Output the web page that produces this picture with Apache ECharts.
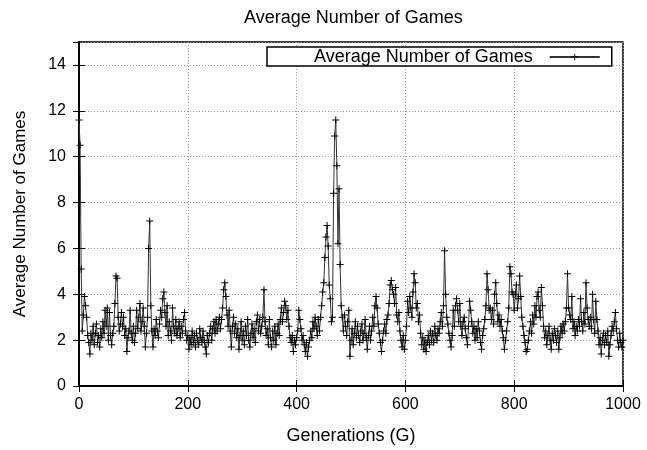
<!DOCTYPE html>
<html>
<head>
<meta charset="utf-8">
<script src="https://cdn.jsdelivr.net/npm/echarts@6/dist/echarts.min.js"></script>
<style>
  html, body { margin: 0; padding: 0; background: #fff; }
  #chart { width: 647px; height: 450px; }
</style>
</head>
<body>
<div id="chart"></div>
<script>
// one value every 2 generations, gen 0 .. 1000
var genStep = 2;
var avgGames = [
  11.6, 10.5, 5.1, 2.4, 3.1, 3.9, 3.5, 3.0, 2.2, 1.9, 1.4, 2.3, 2.0, 2.6, 1.8, 2.3, 2.7, 1.9, 2.2, 1.7, 2.5, 2.1, 2.8, 2.3, 3.3,
  2.6, 3.4, 2.0, 3.2, 2.2, 1.8, 2.3, 2.6, 3.6, 4.8, 4.7, 3.0, 2.4, 2.7, 3.2, 2.6, 3.0, 2.2, 2.5, 1.5, 2.1, 2.4, 3.3, 2.3, 2.0,
  2.6, 1.9, 2.3, 3.3, 2.5, 3.0, 3.6, 2.4, 2.8, 3.4, 2.6, 1.7, 2.3, 3.0, 6.0, 7.2, 3.5, 2.4, 1.7, 2.5, 2.2, 2.9, 2.4, 2.1, 2.7,
  3.3, 3.0, 3.8, 4.1, 3.2, 2.6, 3.5, 2.2, 2.8, 2.4, 2.0, 3.4, 2.6, 2.3, 2.9, 2.2, 2.5, 2.8, 2.1, 2.6, 2.3, 2.9, 3.2, 2.4, 2.0,
  2.2, 1.6, 2.1, 1.8, 2.4, 1.9, 2.2, 1.7, 2.3, 2.0, 1.8, 2.5, 2.1, 1.9, 2.4, 2.0, 1.7, 1.4, 2.2, 1.9, 2.3, 2.6, 2.0, 2.5, 2.8,
  2.3, 2.9, 2.4, 2.7, 3.0, 2.5, 2.9, 3.4, 4.2, 4.5, 3.9, 3.1, 2.6, 3.3, 2.4, 1.7, 2.6, 3.0, 2.3, 2.7, 2.1, 2.5, 1.6, 2.2, 2.8,
  2.0, 2.4, 1.8, 2.6, 2.2, 2.9, 2.0, 1.7, 2.3, 2.7, 2.1, 2.5, 1.9, 2.8, 3.1, 2.4, 2.9, 2.3, 2.6, 3.0, 4.2, 2.8, 2.2, 2.5, 1.8,
  2.9, 2.1, 1.7, 2.4, 2.0, 2.6, 1.8, 2.3, 2.7, 2.2, 2.9, 3.4, 2.8, 3.2, 3.7, 3.5, 2.9, 3.3, 2.6, 2.1, 1.9, 2.2, 1.5, 2.0, 1.8,
  2.1, 2.4, 3.3, 2.9, 2.5, 2.0, 2.2, 1.8, 1.5, 1.9, 1.3, 1.7, 2.0, 2.4, 2.1, 2.8, 2.5, 3.0, 2.6, 2.2, 2.9, 2.4, 3.0, 3.5, 4.1,
  4.5, 5.6, 6.5, 7.0, 6.1, 4.4, 3.8, 2.8, 3.0, 8.4, 10.9, 11.6, 9.6, 6.2, 8.6, 5.3, 3.5, 3.0, 2.4, 3.1, 2.6, 2.2, 2.8, 3.3, 1.3,
  2.0, 2.5, 1.8, 2.3, 2.8, 2.1, 2.6, 2.2, 1.9, 2.4, 2.7, 2.0, 2.3, 2.9, 2.1, 1.6, 2.2, 2.6, 2.0, 2.4, 3.0, 2.6, 3.5, 3.9, 3.4,
  2.7, 2.3, 1.9, 1.5, 2.0, 2.4, 2.7, 2.3, 2.9, 3.1, 3.6, 4.4, 4.6, 4.2, 4.0, 3.6, 4.3, 3.1, 2.8, 3.2, 2.4, 2.0, 1.7, 2.2, 1.6,
  2.0, 2.6, 3.7, 3.2, 3.9, 3.4, 3.0, 4.1, 4.9, 4.5, 3.4, 3.6, 2.8, 3.1, 2.3, 1.8, 2.1, 1.6, 2.0, 1.5, 1.9, 2.2, 1.8, 2.4, 2.0,
  2.3, 1.9, 2.6, 2.2, 2.0, 2.5, 2.3, 2.8, 3.2, 2.6, 3.5, 5.9, 4.0, 3.0, 2.7, 2.3, 2.0, 1.7, 2.2, 3.3, 2.6, 3.5, 3.8, 3.3, 2.8,
  3.6, 2.6, 2.2, 2.8, 3.0, 2.5, 2.1, 1.8, 2.6, 3.7, 3.3, 2.8, 2.3, 2.6, 2.0, 2.5, 2.1, 2.8, 2.4, 1.9, 1.6, 2.2, 2.5, 2.9, 3.5,
  4.9, 4.2, 3.3, 3.4, 2.9, 3.3, 2.7, 4.0, 4.5, 3.6, 2.8, 3.1, 2.6, 2.9, 2.4, 2.1, 1.6, 2.0, 2.4, 2.8, 3.4, 5.2, 4.9, 4.1, 4.0,
  3.3, 4.0, 4.4, 3.4, 3.8, 4.8, 3.9, 3.0, 2.6, 2.2, 1.9, 1.5, 1.6, 2.0, 2.4, 2.8, 2.3, 3.1, 2.7, 3.5, 3.0, 3.9, 4.1, 3.3, 3.0,
  4.3, 3.5, 2.6, 2.1, 2.4, 1.8, 2.2, 2.6, 2.0, 1.6, 2.3, 2.0, 2.5, 2.2, 1.9, 2.4, 1.6, 2.1, 2.6, 2.3, 2.7, 2.4, 2.8, 3.4, 4.9,
  3.4, 3.1, 2.9, 3.9, 2.5, 2.8, 2.2, 2.6, 2.4, 2.9, 2.6, 3.8, 2.8, 2.4, 3.2, 2.7, 4.5, 3.4, 2.9, 2.6, 3.0, 2.5, 4.0, 2.9, 2.3,
  3.7, 2.9, 2.4, 1.8, 2.1, 1.4, 2.0, 2.3, 1.8, 2.2, 1.9, 2.4, 1.3, 1.8, 2.2, 2.6, 2.4, 2.8, 3.2, 2.5, 2.0, 1.7, 2.3, 1.9, 1.7,
  2.0
];
var xTicks = [0, 200, 400, 600, 800, 1000];
var yTicks = [0, 2, 4, 6, 8, 10, 12, 14];

var seriesData = avgGames.map(function (v, i) {
  return [i * genStep, v];
});

var FONT = 'Liberation Sans, Arial, Helvetica, sans-serif';
var plusIcon = 'path://M3,0h1v7h-1zM0,3h7v1h-7z';

var chart = echarts.init(document.getElementById('chart'), null, { renderer: 'canvas' });

function axisBase(extra) {
  return Object.assign({
    type: 'value',
    axisLine: { show: true, lineStyle: { color: '#000', width: 1.5 } },
    axisTick: { show: true, inside: true, length: 6, lineStyle: { color: '#000', width: 1 } },
    splitLine: { show: false }
  }, extra);
}

chart.setOption({
  animation: false,
  backgroundColor: '#fff',
  title: {
    text: 'Average Number of Games',
    left: 239,
    top: 4,
    textStyle: { fontFamily: FONT, fontSize: 18, fontWeight: 'normal', color: '#000' }
  },
  legend: {
    data: ['Average Number of Games'],
    left: 267,
    top: 47,
    align: 'right',
    itemWidth: 50,
    itemHeight: 8,
    itemGap: 17,
    padding: [1, 11, 0, 47],
    borderColor: '#000',
    borderWidth: 1.5,
    backgroundColor: '#fff',
    textStyle: { fontFamily: FONT, fontSize: 18, color: '#000', padding: [0, 12, 0, 0] }
  },
  grid: {
    left: 79,
    right: 24,
    top: 42,
    bottom: 58,
    show: true,
    borderColor: '#000',
    borderWidth: 1.5
  },
  xAxis: [
    axisBase({
      min: xTicks[0],
      max: xTicks[xTicks.length - 1],
      interval: 200,
      name: 'Generations (G)',
      nameLocation: 'middle',
      nameGap: 41,
      nameTextStyle: { fontFamily: FONT, fontSize: 18, color: '#000' },
      axisLabel: {
        fontFamily: FONT, fontSize: 16, color: '#000', margin: 11,
        formatter: function (v) { return String(v); }
      },
      splitLine: { show: true, lineStyle: { color: '#999', type: [1, 2], width: 1 } }
    }),
    axisBase({
      position: 'top',
      min: xTicks[0],
      max: xTicks[xTicks.length - 1],
      interval: 200,
      axisLabel: { show: false }
    })
  ],
  yAxis: [
    axisBase({
      min: yTicks[0],
      max: 15,
      interval: 2,
      name: 'Average Number of Games',
      nameLocation: 'middle',
      nameGap: 50,
      nameTextStyle: { fontFamily: FONT, fontSize: 17, color: '#000' },
      axisLabel: { fontFamily: FONT, fontSize: 16, color: '#000', margin: 13, showMaxLabel: false },
      splitLine: { show: true, lineStyle: { color: '#999', type: [1, 2], width: 1 } }
    }),
    axisBase({
      position: 'right',
      min: yTicks[0],
      max: 15,
      interval: 2,
      axisLabel: { show: false }
    })
  ],
  series: [
    {
      name: 'Average Number of Games',
      type: 'line',
      xAxisIndex: 0,
      yAxisIndex: 0,
      data: seriesData,
      symbol: plusIcon,
      symbolSize: 7,
      showSymbol: true,
      lineStyle: { color: '#333', width: 1 },
      itemStyle: { color: '#000' },
      emphasis: { disabled: true }
    }
  ]
});
</script>
</body>
</html>
